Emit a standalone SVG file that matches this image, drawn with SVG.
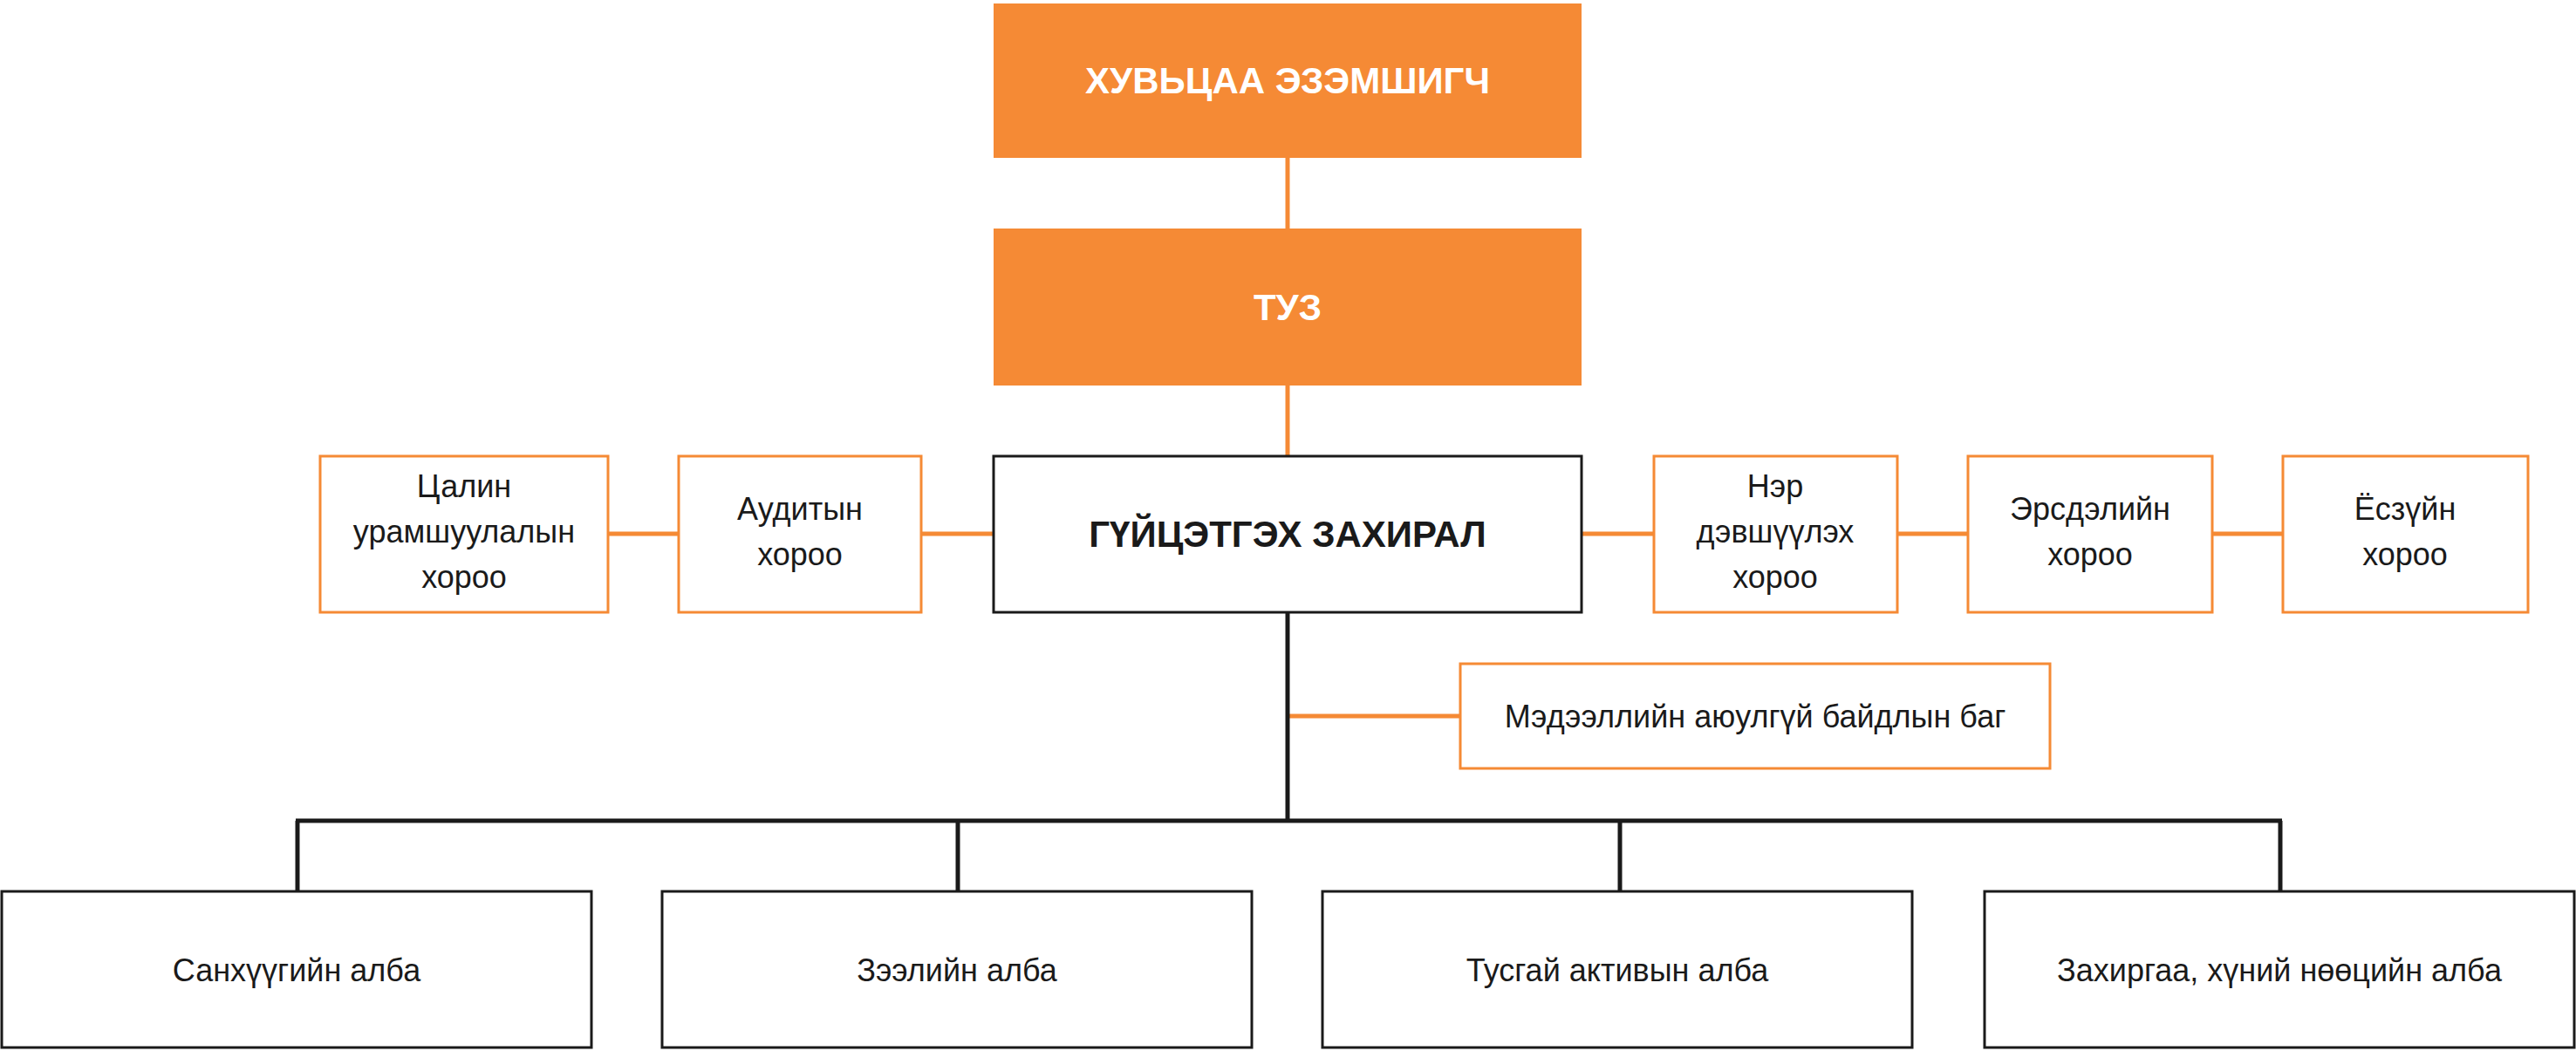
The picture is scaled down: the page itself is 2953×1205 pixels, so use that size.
<svg xmlns="http://www.w3.org/2000/svg" width="2953" height="1205" viewBox="0 0 2953 1205">
<style>
.of{fill:#f58a35}
.ob{fill:#fff;stroke:#f58a35;stroke-width:3}
.kb{fill:#fff;stroke:#1a1a1a;stroke-width:3}
.t{font-family:"Liberation Sans",Arial,sans-serif;font-size:36px;fill:#1a1a1a;text-anchor:middle}
.tw{font-family:"Liberation Sans",Arial,sans-serif;font-size:42px;font-weight:bold;fill:#fff;text-anchor:middle}
.tb{font-family:"Liberation Sans",Arial,sans-serif;font-size:42px;font-weight:bold;fill:#1a1a1a;text-anchor:middle}
.ol{stroke:#f58a35;stroke-width:5;fill:none}
.kl{stroke:#1a1a1a;stroke-width:5;fill:none}
</style>
<rect width="2953" height="1205" fill="#fff"/>
<g id="connectors">
<line class="ol" x1="1476" y1="181" x2="1476" y2="262"/>
<line class="ol" x1="1476" y1="442" x2="1476" y2="523"/>
<line class="ol" x1="697" y1="612" x2="778" y2="612"/>
<line class="ol" x1="1056" y1="612" x2="1139" y2="612"/>
<line class="ol" x1="1813" y1="612" x2="1896" y2="612"/>
<line class="ol" x1="2175" y1="612" x2="2256" y2="612"/>
<line class="ol" x1="2536" y1="612" x2="2617" y2="612"/>
<line class="ol" x1="1476" y1="821" x2="1674" y2="821"/>
<line class="kl" x1="1476" y1="702" x2="1476" y2="941"/>
<line class="kl" x1="339" y1="941" x2="2616" y2="941"/>
<line class="kl" x1="341" y1="941" x2="341" y2="1022"/>
<line class="kl" x1="1098" y1="941" x2="1098" y2="1022"/>
<line class="kl" x1="1857" y1="941" x2="1857" y2="1022"/>
<line class="kl" x1="2614" y1="941" x2="2614" y2="1022"/>
</g>
<g id="n1"><rect class="of" x="1139" y="4" width="674" height="177"/><text class="tw" x="1476" y="107">ХУВЬЦАА ЭЗЭМШИГЧ</text></g>
<g id="n2"><rect class="of" x="1139" y="262" width="674" height="180"/><text class="tw" x="1476" y="367">ТУЗ</text></g>
<g id="n3"><rect class="kb" x="1139" y="523" width="674" height="179"/><text class="tb" x="1476" y="627">ГҮЙЦЭТГЭХ ЗАХИРАЛ</text></g>
<g id="n4"><rect class="ob" x="367" y="523" width="330" height="179"/><text class="t" x="532" y="570">Цалин</text><text class="t" x="532" y="622">урамшуулалын</text><text class="t" x="532" y="674">хороо</text></g>
<g id="n5"><rect class="ob" x="778" y="523" width="278" height="179"/><text class="t" x="917" y="596">Аудитын</text><text class="t" x="917" y="648">хороо</text></g>
<g id="n6"><rect class="ob" x="1896" y="523" width="279" height="179"/><text class="t" x="2035" y="570">Нэр</text><text class="t" x="2035" y="622">дэвшүүлэх</text><text class="t" x="2035" y="674">хороо</text></g>
<g id="n7"><rect class="ob" x="2256" y="523" width="280" height="179"/><text class="t" x="2396" y="596">Эрсдэлийн</text><text class="t" x="2396" y="648">хороо</text></g>
<g id="n8"><rect class="ob" x="2617" y="523" width="281" height="179"/><text class="t" x="2757" y="596">Ёсзүйн</text><text class="t" x="2757" y="648">хороо</text></g>
<g id="n9"><rect class="ob" x="1674" y="761" width="676" height="120"/><text class="t" x="2012" y="834">Мэдээллийн аюулгүй байдлын баг</text></g>
<g id="n10"><rect class="kb" x="2" y="1022" width="676" height="179"/><text class="t" x="340" y="1125">Санхүүгийн алба</text></g>
<g id="n11"><rect class="kb" x="759" y="1022" width="676" height="179"/><text class="t" x="1097" y="1125">Зээлийн алба</text></g>
<g id="n12"><rect class="kb" x="1516" y="1022" width="676" height="179"/><text class="t" x="1854" y="1125">Тусгай активын алба</text></g>
<g id="n13"><rect class="kb" x="2275" y="1022" width="676" height="179"/><text class="t" x="2613" y="1125">Захиргаа, хүний нөөцийн алба</text></g>
</svg>
